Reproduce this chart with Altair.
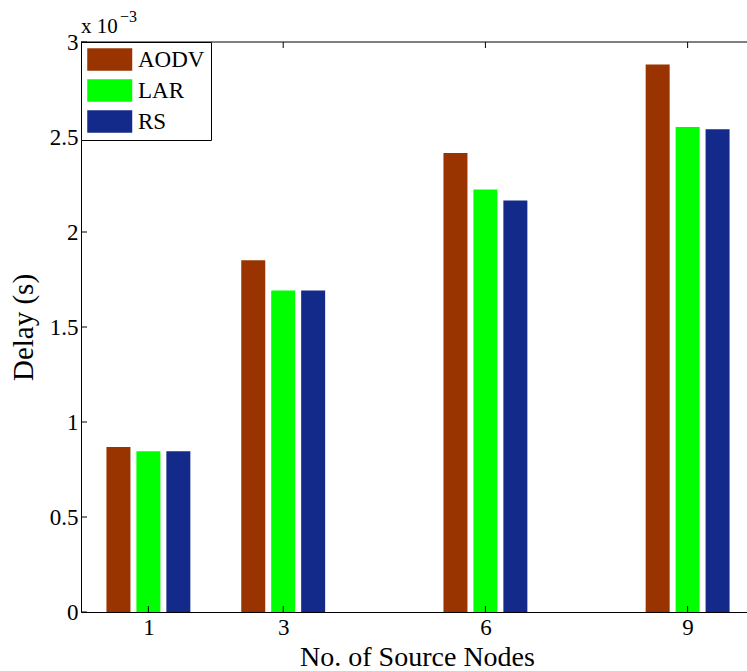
import altair as alt
import pandas as pd

# Mean end-to-end delay (seconds) per routing protocol and number of source nodes
nodes = [1, 3, 6, 9]
protocols = ["AODV", "LAR", "RS"]
aodv = [0.868e-3, 1.851e-3, 2.416e-3, 2.882e-3]
lar = [0.846e-3, 1.692e-3, 2.224e-3, 2.552e-3]
rs = [0.846e-3, 1.692e-3, 2.166e-3, 2.541e-3]
colors = ["#993300", "#00FF00", "#132A8B"]
y_ticks = [0, 0.0005, 0.001, 0.0015, 0.002, 0.0025, 0.003]

FONT = "Liberation Serif"
W, H = 666, 570
X_DOMAIN = [0, 9.881]
Y_DOMAIN = [0, 0.003]

rows = []
for i, (name, vals) in enumerate(zip(protocols, [aodv, lar, rs])):
    for n, v in zip(nodes, vals):
        rows.append({"nodes": n, "protocol": name, "idx": i, "delay": v})
df = pd.DataFrame(rows)

xscale = alt.Scale(domain=X_DOMAIN, nice=False, zero=False)
yscale = alt.Scale(domain=Y_DOMAIN, nice=False)

# grouped bars: bar spacing 4/9 of a unit, bar width 0.8 of the spacing
bars = (
    alt.Chart(df)
    .transform_calculate(center="datum.nodes + (datum.idx - 1) * 0.4444")
    .transform_calculate(x0="datum.center - 0.178", x1="datum.center + 0.178")
    .mark_bar(opacity=1)
    .encode(
        x=alt.X(
            "x0:Q",
            scale=xscale,
            axis=alt.Axis(
                values=nodes,
                format="d",
                title="No. of Source Nodes",
                labelPadding=4,
                titlePadding=4,
                titleFontSize=28,
                titleX=336,
            ),
        ),
        x2="x1:Q",
        y=alt.Y(
            "delay:Q",
            scale=yscale,
            axis=alt.Axis(
                values=y_ticks,
                labelExpr="format(datum.value * 1000, '~g')",
                title="Delay (s)",
                labelPadding=3,
                titlePadding=11,
            ),
        ),
        y2=alt.datum(0),
        color=alt.Color(
            "protocol:N",
            scale=alt.Scale(domain=protocols, range=colors),
            legend=alt.Legend(
                orient="none",
                legendX=0,
                legendY=0,
                title=None,
                direction="vertical",
                symbolType="M-1,-1H3V1H-1Z",
                symbolSize=506,
                symbolStrokeWidth=0,
                symbolOpacity=1,
                labelFont=FONT,
                labelFontSize=23,
                labelColor="black",
                labelOffset=28,
                padding=6,
                rowPadding=7,
                strokeColor="black",
                fillColor="white",
            ),
        ),
    )
)

# inward tick marks on the left, bottom and top edges
ytick_df = pd.DataFrame({"delay": y_ticks})
xtick_df = pd.DataFrame({"x0": nodes})

left_ticks = (
    alt.Chart(ytick_df)
    .mark_tick(orient="horizontal", size=6, thickness=1, color="black", opacity=1)
    .encode(y=alt.Y("delay:Q", scale=yscale), x=alt.value(3))
)
bottom_ticks = (
    alt.Chart(xtick_df)
    .mark_tick(orient="vertical", size=6, thickness=1, color="black", opacity=1)
    .encode(x=alt.X("x0:Q", scale=xscale), y=alt.value(H - 3))
)
top_ticks = (
    alt.Chart(xtick_df)
    .mark_tick(orient="vertical", size=6, thickness=1, color="black", opacity=1)
    .encode(x=alt.X("x0:Q", scale=xscale), y=alt.value(3))
)

# top border of the axes box
top_line = (
    alt.Chart(pd.DataFrame({"k": [0]}))
    .mark_rule(color="black", strokeWidth=1)
    .encode(x=alt.value(0), x2=alt.value(W), y=alt.value(0))
)

# exponent note for the y axis
exp_base = (
    alt.Chart(pd.DataFrame({"t": ["x 10"]}))
    .mark_text(align="left", baseline="alphabetic", font=FONT, fontSize=21, color="black")
    .encode(text="t:N", x=alt.value(0), y=alt.value(-9))
)
exp_power = (
    alt.Chart(pd.DataFrame({"t": ["\u22123"]}))
    .mark_text(align="left", baseline="alphabetic", font=FONT, fontSize=16, color="black")
    .encode(text="t:N", x=alt.value(39), y=alt.value(-20))
)

chart = (
    alt.layer(bars, left_ticks, bottom_ticks, top_ticks, top_line, exp_base, exp_power)
    .properties(
        width=W,
        height=H,
        autosize=alt.AutoSizeParams(type="none"),
        padding={"left": 81, "top": 42, "right": 0, "bottom": 59},
        background="white",
    )
    .configure_view(stroke=None)
    .configure_axis(
        grid=False,
        ticks=False,
        domainColor="black",
        domainWidth=1,
        labelFont=FONT,
        labelFontSize=23,
        labelColor="black",
        titleFont=FONT,
        titleFontSize=29,
        titleFontWeight="normal",
        titleColor="black",
    )
)

chart.save("out.html", embed_options={"renderer": "svg", "actions": False})
